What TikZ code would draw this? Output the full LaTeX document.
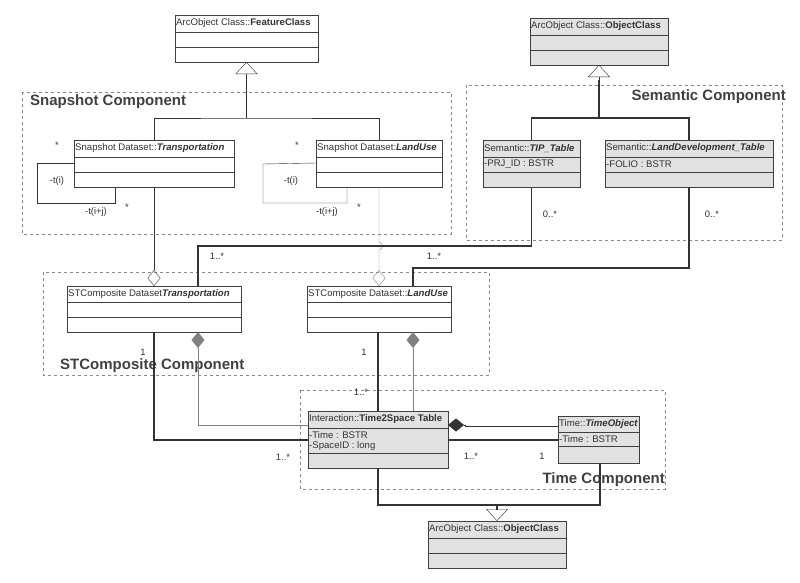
\documentclass[tikz,border=0pt]{standalone}
\usepackage{fontspec}
\setmainfont{Liberation Sans}
\usetikzlibrary{arrows.meta}
\definecolor{cfill}{HTML}{E2E2E2}
\definecolor{dash}{HTML}{8A8A8A}
\definecolor{ttl}{HTML}{404040}
\newcommand{\umlcls}[9]{%
  \node[draw=black!75,fill=#8,minimum width=#4pt,minimum height={(#5+#6+#7)*1pt},anchor=north west,inner sep=0,outer sep=0] (#1) at (#2,#3) {};
  \draw[black!75] ({#2},{#3+#5}) -- ++(#4,0);
  \draw[black!75] ({#2},{#3+#5+#6}) -- ++(#4,0);
  \node[anchor=west,inner sep=1pt,font=\fontsize{9.6}{10}\selectfont,text=black!80] (#1t) at ({#2},{#3+#5/2}) {#9};}
\begin{document}
\begin{tikzpicture}[x=1pt,y=-1pt,
  sm/.style={font=\fontsize{9.4}{10}\selectfont,text=black!80,inner sep=0},
  attr/.style={anchor=west,font=\fontsize{9.6}{10}\selectfont,text=black!80,inner sep=1pt},
  comp/.style={draw=dash,dashed,thin},
  ctitle/.style={font=\bfseries\fontsize{15}{17}\selectfont,text=ttl,inner sep=0},
  thk/.style={line width=1.6pt,black!80},
  thn/.style={black!80,thin},
  gl/.style={gray,thin},
  inh/.style={-{Triangle[open,length=12pt,width=22pt]}},
  agg/.style={{Diamond[open,length=16pt,width=13pt]}-},
  cmp/.style={{Diamond[length=16pt,width=13pt]}-}]
\useasboundingbox (0,0) rectangle (800,582);
% component frames
\draw[comp] (22,92) rectangle (451,234);
\node[ctitle,anchor=west] (snapc) at (30,102) {Snapshot Component};
\draw[comp] (466,85) rectangle (782,240);
\node[ctitle,anchor=east] (semc) at (786,97) {Semantic Component};
\draw[comp] (43,272) rectangle (489,375);
\node[ctitle,anchor=west] (stc) at (60,366) {STComposite Component};
\draw[comp] (300,390) rectangle (665,489);
\node[ctitle,anchor=east] (timc) at (665,480) {Time Component};
% classes
\umlcls{feat}{175}{15}{143}{17}{15}{15}{white}{ArcObject Class::\textbf{FeatureClass}}
\umlcls{obj}{530}{18}{138}{17}{15}{15}{cfill}{ArcObject Class::\textbf{ObjectClass}}
\umlcls{snt}{74}{140}{160}{17}{15}{15}{white}{Snapshot Dataset::\textbf{\textit{Transportation}}}
\umlcls{snl}{316}{140}{126}{17}{15}{15}{white}{Snapshot Dataset:\textbf{\textit{LandUse}}}
\umlcls{tip}{483}{140}{97}{17}{15}{15}{cfill}{Semantic::\textbf{\textit{TIP\_Table}}}
\umlcls{ldt}{605}{140}{168}{17}{15}{15}{cfill}{Semantic::\textbf{\textit{LandDevelopment\_Table}}}
\umlcls{stt}{67}{286}{174}{16}{15}{15}{white}{STComposite Dataset\textbf{\textit{Transportation}}}
\umlcls{stl}{307}{286}{144}{16}{15}{15}{white}{STComposite Dataset::\textbf{\textit{LandUse}}}
\umlcls{t2s}{308}{411}{140}{17}{25}{15}{cfill}{Interaction::\textbf{Time2Space Table}}
\umlcls{tob}{558}{416}{81}{16}{14}{17}{cfill}{Time::\textbf{\textit{TimeObject}}}
\umlcls{obj2}{428}{521}{138}{17}{15}{15}{cfill}{ArcObject Class::\textbf{ObjectClass}}
% attributes
\node[attr] (a1) at (483,164) {-PRJ\_ID : BSTR};
\node[attr] (a2) at (605,164) {-FOLIO : BSTR};
\node[attr] (a3) at (308,435) {-Time : BSTR};
\node[attr] (a4) at (308,446) {-SpaceID : long};
\node[attr] (a5) at (558,439) {-Time : BSTR};
% snapshot inheritance
\coordinate (fj) at (246.5,118);
\draw[thn] (snt.north) |- (fj) -| (snl.north);
\draw[thn,inh] (fj) -- (feat.south);
% self loops
\draw[thn] (snt.west |- 0,163) -- (37,163) -- (37,203) -- (115,203) -- (115,187);
\node[sm] (l1) at (57,181) {-t(i)};
\node[sm] (l2) at (96,212) {-t(i+j)};
\node[sm] (l3) at (57,145) {*};
\node[sm] (l4) at (127,207) {*};
\draw[thn] (snl.west |- 0,163) -- (263,164) -- (263,203) -- (347,203) -- (347,187);
\node[sm] (l5) at (291,181) {-t(i)};
\node[sm] (l6) at (327,212) {-t(i+j)};
\node[sm] (l7) at (297,145) {*};
\node[sm] (l8) at (359,207) {*};
% semantic inheritance
\coordinate (sj) at (599,118);
\draw[thk] (tip.north) |- (sj) -| (ldt.north);
\draw[thk] (sj) -- (599,80);
\draw[thn,inh] (599,85) -- (obj.south);
% snapshot -> stcomposite aggregation
\draw[thn,agg] (stt.north) -- (snt.south);
\draw[gl,agg] (stl.north) -- (379,250) .. controls (383.5,250) and (383.5,242) .. (379,242) -- (snl.south);
% semantic links
\draw[thk] (tip.south) |- (198,246) -- ([xshift=44pt]stt.north);
\draw[thk] (ldt.south) |- (413,268) -- ([xshift=34pt]stl.north);
\node[sm] (m1) at (550,214) {0..*};
\node[sm] (m2) at (712,214) {0..*};
\node[sm] (m3) at (217,256) {1..*};
\node[sm] (m4) at (434,256) {1..*};
% stcomposite -> time2space
\draw[thk] (stt.south) |- (t2s.west |- 0,440);
\draw[gl,cmp] ([xshift=44pt]stt.south) |- (t2s.west |- 0,425);
\draw[thk] (stl.south -| t2s.north) -- (t2s.north);
\draw[gl,cmp] ([xshift=34pt]stl.south) -- (413,411);
\node[sm] (m5) at (143,352) {1};
\node[sm] (m6) at (283,457) {1..*};
\node[sm] (m7) at (364,352) {1};
\node[sm] (m8) at (361,392) {1..*};
% time2space <-> timeobject
\draw[thn,cmp] ([yshift=-14pt]t2s.north east) -- (465,425) -- (465,426) -- (tob.west |- 0,426);
\draw[thk] (t2s.east |- 0,440) -- (tob.west |- 0,440);
\node[sm] (m9) at (471,456) {1..*};
\node[sm] (m10) at (542,456) {1};
% bottom inheritance
\coordinate (bj) at (497,505);
\draw[thk] (t2s.south) |- (bj) -| ([xshift=1.5pt]tob.south);
\draw[thk] (bj) -- (497,510);
\draw[thn,inh] (497,508) -- (obj2.north);
\end{tikzpicture}
\end{document}
